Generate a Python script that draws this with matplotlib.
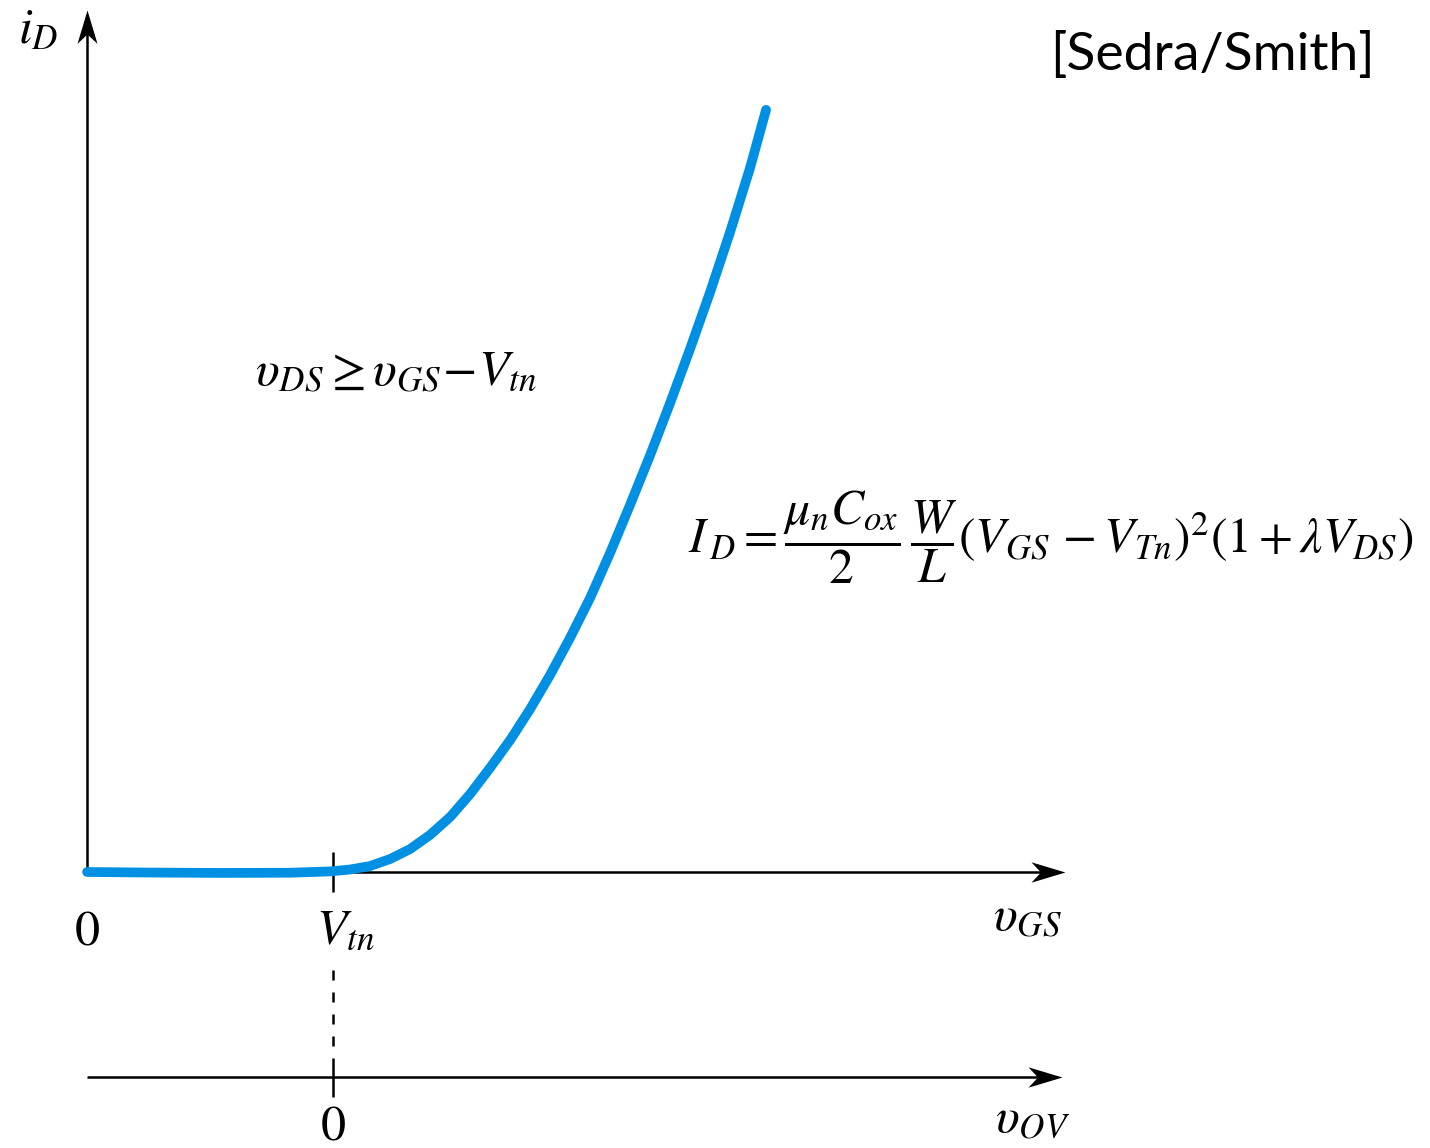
import matplotlib
matplotlib.use("Agg")
import matplotlib.pyplot as plt
from matplotlib.path import Path

plt.rcParams["mathtext.fontset"] = "stix"

# Threshold voltage (V) and the transfer characteristic i_D(v_GS)
VTN = 1.0
v_gs = [0.000, 0.256, 0.541, 0.825, 0.988, 1.069, 1.150, 1.232, 1.313, 1.394,
        1.476, 1.557, 1.638, 1.720, 1.801, 1.882, 1.963, 2.045, 2.126, 2.207,
        2.289, 2.370, 2.451, 2.533, 2.614, 2.695, 2.760]
i_d = [0.000, -0.003, -0.005, -0.004, 0.003, 0.013, 0.031, 0.068, 0.120, 0.194,
       0.288, 0.408, 0.545, 0.691, 0.853, 1.031, 1.225, 1.435, 1.670, 1.921,
       2.183, 2.455, 2.738, 3.037, 3.351, 3.686, 3.990]

# Axis extents
VGS_AXIS_END = 3.976
ID_AXIS_END = 4.513
VOV_AXIS_Y = -1.073
VOV_AXIS_END = 3.963

BLUE = "#0090E3"
INK = "black"
LW = 1.8

fig = plt.figure(figsize=(14.3, 11.48), dpi=100)
ax = fig.add_axes([0, 0, 1, 1])
ax.set_xlim(-0.354, 5.459)
ax.set_ylim(-1.445, 4.565)
ax.set_axis_off()

# stealth-style arrowheads (tip at the marker origin)
head_right = Path([(0, 0), (-1, 0.3), (-0.72, 0), (-1, -0.3), (0, 0)],
                  [Path.MOVETO, Path.LINETO, Path.LINETO, Path.LINETO, Path.CLOSEPOLY])
head_up = Path([(0, 0), (-0.3, -1), (0, -0.72), (0.3, -1), (0, 0)],
               [Path.MOVETO, Path.LINETO, Path.LINETO, Path.LINETO, Path.CLOSEPOLY])

# i_D axis
ax.plot([0, 0], [0, ID_AXIS_END - 0.1], color=INK, lw=LW, solid_capstyle="butt")
ax.plot([0], [ID_AXIS_END], marker=head_up, ms=48, color=INK, mew=0)
# v_GS axis
ax.plot([0, VGS_AXIS_END - 0.08], [0, 0], color=INK, lw=LW, solid_capstyle="butt")
ax.plot([VGS_AXIS_END], [0], marker=head_right, ms=49, color=INK, mew=0)
# v_OV axis
ax.plot([0, VOV_AXIS_END - 0.08], [VOV_AXIS_Y, VOV_AXIS_Y], color=INK, lw=LW,
        solid_capstyle="butt")
ax.plot([VOV_AXIS_END], [VOV_AXIS_Y], marker=head_right, ms=49, color=INK, mew=0)

# threshold tick, dashed drop line and v_OV = 0 tick
ax.plot([VTN, VTN], [0.105, -0.105], color=INK, lw=LW, solid_capstyle="butt")
ax.plot([VTN, VTN], [-0.513, VOV_AXIS_Y + 0.10], color=INK, lw=LW,
        linestyle=(0, (4, 4.8)), dash_capstyle="butt")
ax.plot([VTN, VTN], [VOV_AXIS_Y + 0.10, VOV_AXIS_Y - 0.105], color=INK, lw=LW,
        solid_capstyle="butt")

# transfer characteristic
ax.plot(v_gs, i_d, color=BLUE, lw=7, solid_capstyle="round", solid_joinstyle="round",
        zorder=5)

FS = 36
ax.text(-0.280, 4.340, r"$i_D$", fontsize=FS, ha="left", va="baseline")
ax.text(0, -0.382, r"$0$", fontsize=FS, ha="center", va="baseline")
ax.text(VTN - 0.069, -0.372, r"$V_{tn}$", fontsize=FS, ha="left", va="baseline")
ax.text(3.683, -0.304, r"$\upsilon_{GS}$", fontsize=FS, ha="left", va="baseline")
ax.text(VTN, -1.400, r"$0$", fontsize=FS, ha="center", va="baseline")
ax.text(3.691, -1.361, r"$\upsilon_{OV}$", fontsize=FS, ha="left", va="baseline")
ax.text(0.683, 2.550, r"$\upsilon_{DS} \geq \upsilon_{GS}\!-\!V_{tn}$", fontsize=FS,
        ha="left", va="baseline")
ax.text(2.443, 1.754,
        r"$I_{\,D} = \dfrac{\mu_n C_{ox}}{2}\,\dfrac{W}{L}\left(V_{GS}\,-V_{Tn}\right)^2"
        r"\left(1+\lambda V_{DS}\right)$",
        fontsize=35.7, ha="left", va="center")

fig.text(0.9615, 0.939, "[Sedra/Smith]", fontsize=38.5, family="Lato",
         ha="right", va="baseline")

fig.savefig("out.png", dpi=100)
